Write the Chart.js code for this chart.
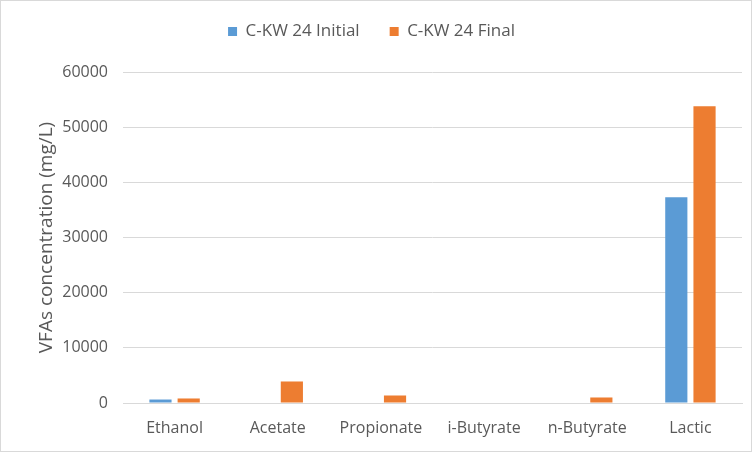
<!DOCTYPE html>
<html>
<head>
<meta charset="utf-8">
<script src="https://cdn.jsdelivr.net/npm/chart.js@4/dist/chart.umd.min.js"></script>
<style>
   html, body { margin: 0; padding: 0; background: #fff; }
   #wrap { width: 750px; height: 450px; border: 1px solid #d9d9d9; }
</style>
</head>
<body>
<div id="wrap"><canvas id="chart__1" width="750" height="450"></canvas></div>
<script>
// DATA
const categories = ["Ethanol", "Acetate", "Propionate", "i-Butyrate", "n-Butyrate", "Lactic"];
const initialValues = [630, 0, 0, 0, 0, 37300];
const finalValues = [820, 3900, 1360, 0, 1000, 53800];
const yTicks = [0, 10000, 20000, 30000, 40000, 50000, 60000];

Chart.defaults.font.family = "'Open Sans', 'Noto Sans', sans-serif";
Chart.defaults.color = "#595959";

// extra room under the legend
const legendMargin = {
   id: "legendMargin",
   beforeInit: function (chart) {
      const fit = chart.legend.fit;
      chart.legend.fit = function () {
         fit.bind(chart.legend)();
         this.height = 79;
      };
   },
};

var ctx1 = document.getElementById("chart__1").getContext("2d");
window.chart1 = new Chart(ctx1, {
   type: "bar",
   data: {
      labels: categories,
      datasets: [
         {
            label: "C-KW 24 Initial",
            data: initialValues,
            backgroundColor: "#5B9BD5",
         },
         {
            label: "C-KW 24 Final",
            data: finalValues,
            backgroundColor: "#ED7D31",
         },
      ],
   },
   plugins: [legendMargin],
   options: {
      responsive: false,
      animation: false,
      layout: { padding: { top: -8, right: 9, bottom: 7, left: 0 } },
      categoryPercentage: 0.547,
      barPercentage: 0.786,
      plugins: {
         legend: {
            position: "top",
            labels: {
               boxWidth: 9,
               boxHeight: 9,
               padding: 30,
               font: { size: 17 },
            },
         },
         tooltip: { enabled: false },
      },
      scales: {
         x: {
            grid: { display: false },
            border: { color: "#d9d9d9", width: 1 },
            ticks: { font: { size: 16 }, padding: 8 },
            afterFit: function (scale) {
               scale.height = 41;
            },
         },
         y: {
            min: 0,
            max: 60000,
            afterBuildTicks: function (scale) {
               scale.ticks = yTicks.map((v) => ({ value: v }));
            },
            grid: { color: "#d9d9d9", drawTicks: false },
            border: { display: false },
            ticks: {
               font: { size: 16 },
               padding: 15,
               callback: function (value) {
                  return String(value);
               },
            },
            title: {
               display: true,
               text: "VFAs concentration (mg/L)",
               font: { size: 19 },
               padding: { top: 34, bottom: 0 },
            },
            afterFit: function (scale) {
               scale.width = 122;
            },
         },
      },
   },
});
</script>
</body>
</html>
